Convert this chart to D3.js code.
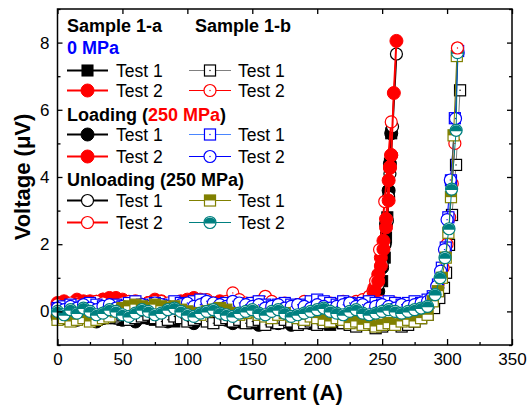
<!DOCTYPE html>
<html><head><meta charset="utf-8">
<script src="https://cdn.jsdelivr.net/npm/d3@7"></script>
<style>
html,body{margin:0;padding:0;background:#fff;}
svg{display:block;font-family:"Liberation Sans",Arial,sans-serif;}
</style></head>
<body>
<svg id="chart" width="530" height="410"></svg>
<script>
// ---------- DATA ----------
const xTicks = [0,50,100,150,200,250,300,350];
const yTicks = [0,2,4,6,8];
const xLabel = "Current (A)";
const yLabel = "Voltage (\u03bcV)";

// baseline current grids (A)
const gridA = [0,5,10,15,20,25,30,35,40,45,50,55,60,65,70,75,80,85,90,95,100,105,110,115,120,125,130,135,140,145,150,155,160,165,170,175,180,185,190,195,200,205,210,215,220,225,230,235,240];
const gridB = [0,5,10,15,20,25,30,35,40,45,50,55,60,65,70,75,80,85,90,95,100,105,110,115,120,125,130,135,140,145,150,155,160,165,170,175,180,185,190,195,200,205,210,215,220,225,230,235,240,245,250,255,260,265,270,275,280,285];

// Sample 1-a, 0 MPa Test 1
const a0t1Base = [-0.05,-0.1,0.0,-0.15,-0.1,-0.2,-0.05,-0.15,-0.1,-0.2,-0.25,-0.1,-0.15,-0.2,-0.1,-0.25,-0.2,-0.15,-0.3,-0.2,-0.15,-0.25,-0.2,-0.1,-0.2,-0.25,-0.15,-0.3,-0.25,-0.2,-0.35,-0.3,-0.25,-0.35,-0.2,-0.3,-0.25,-0.35,-0.3,-0.2,-0.35,-0.3,-0.4,-0.3,-0.35,-0.25,-0.3,-0.2,-0.1];
const a0t1RiseI = [244,247,250,252,253,254,255,256,257];
const a0t1RiseV = [0.1,0.4,0.9,1.6,2.2,2.8,3.5,4.4,5.3];
// Sample 1-a, 0 MPa Test 2
const a0t2Base = [0.2,0.25,0.15,0.2,0.3,0.2,0.25,0.35,0.3,0.4,0.3,0.25,0.2,0.15,0.25,0.2,0.1,0.2,0.15,0.25,0.2,0.3,0.35,0.25,0.2,0.1,0.15,0.2,0.1,0.15,0.05,0.1,0.0,0.05,-0.05,0.0,0.1,0.05,-0.05,0.0,0.05,-0.1,0.0,0.05,-0.05,0.1,0.15,0.2,0.3];
const a0t2RiseI = [244,247,249,251,253,255,256,257,259,261];
const a0t2RiseV = [0.6,0.9,1.35,1.85,2.5,3.3,4.3,4.65,6.5,8.05];
// Sample 1-a, Loading Test 1
const aLt1Base = [-0.15,-0.2,-0.1,-0.25,-0.15,-0.2,-0.3,-0.2,-0.1,-0.15,-0.25,-0.2,-0.3,-0.15,-0.2,-0.1,-0.25,-0.3,-0.2,-0.15,-0.25,-0.35,-0.2,-0.15,-0.3,-0.2,-0.25,-0.35,-0.3,-0.2,-0.25,-0.4,-0.3,-0.25,-0.35,-0.3,-0.4,-0.3,-0.25,-0.35,-0.3,-0.2,-0.35,-0.3,-0.25,-0.3,-0.2,-0.1,0.0];
const aLt1RiseI = [244,247,250,252,253,255,256,257];
const aLt1RiseV = [0.2,0.6,1.3,2.0,2.6,3.6,4.4,5.3];
// Sample 1-a, Loading Test 2
const aLt2Base = [0.25,0.3,0.2,0.35,0.25,0.3,0.2,0.35,0.4,0.3,0.35,0.25,0.3,0.2,0.25,0.35,0.3,0.2,0.25,0.3,0.35,0.4,0.3,0.25,0.2,0.3,0.2,0.15,0.25,0.2,0.1,0.15,0.2,0.1,0.05,0.15,0.1,0.0,0.1,0.05,0.15,0.1,0.0,0.05,0.15,0.2,0.25,0.3,0.4];
const aLt2RiseI = [244,247,249,251,253,254,255,256,257];
const aLt2RiseV = [0.7,1.1,1.6,2.1,2.75,3.3,3.9,4.27,4.65];
// Sample 1-a, Unloading Test 1
const aUt1Base = [-0.05,0.0,-0.1,-0.05,-0.15,-0.1,0.0,-0.05,-0.1,-0.2,-0.1,-0.05,-0.15,-0.1,0.0,-0.1,-0.15,-0.05,-0.2,-0.1,-0.15,-0.05,-0.1,-0.2,-0.15,-0.1,-0.2,-0.15,-0.25,-0.2,-0.1,-0.2,-0.15,-0.25,-0.2,-0.3,-0.2,-0.15,-0.25,-0.2,-0.3,-0.25,-0.2,-0.15,-0.25,-0.1,-0.05,0.05,0.15];
const aUt1RiseI = [244,247,250,252,254,255,256,258,261];
const aUt1RiseV = [0.4,0.8,1.4,2.0,2.7,3.4,4.1,5.5,7.66];
// Sample 1-a, Unloading Test 2
const aUt2Base = [0.15,0.2,0.1,0.25,0.15,0.2,0.3,0.2,0.15,0.25,0.2,0.1,0.2,0.15,0.25,0.3,0.2,0.15,0.1,0.2,0.15,0.25,0.2,0.3,0.25,0.15,0.2,0.1,0.15,0.2,0.25,0.15,0.1,0.2,0.15,0.05,0.1,0.2,0.1,0.15,0.05,0.1,0.15,0.1,0.2,0.25,0.3,0.35,0.45];
const aUt2RiseI = [243,245,248,252,257];
const aUt2RiseV = [0.6,0.9,1.84,3.27,5.64];

// Sample 1-b, 0 MPa Test 1
const b0t1Base = [-0.1,-0.15,-0.05,-0.2,-0.1,-0.15,-0.25,-0.1,-0.2,-0.15,-0.1,-0.25,-0.2,-0.15,-0.1,-0.2,-0.3,-0.25,-0.15,-0.2,-0.3,-0.25,-0.2,-0.3,-0.35,-0.25,-0.2,-0.3,-0.25,-0.35,-0.3,-0.25,-0.4,-0.3,-0.35,-0.25,-0.3,-0.4,-0.35,-0.3,-0.4,-0.35,-0.3,-0.25,-0.35,-0.4,-0.45,-0.35,-0.4,-0.5,-0.45,-0.4,-0.35,-0.45,-0.4,-0.3,-0.2,-0.1];
const b0t1RiseI = [290,294,297.6,299.2,301.5,303.8,306.9,310];
const b0t1RiseV = [0.1,0.4,0.7,1.15,1.98,2.87,4.36,6.58];
// Sample 1-b, 0 MPa Test 2
const b0t2Base = [0.2,0.15,0.25,0.2,0.1,0.2,0.3,0.25,0.15,0.2,0.25,0.3,0.2,0.15,0.25,0.2,0.3,0.25,0.2,0.15,0.25,0.2,0.3,0.35,0.25,0.2,0.3,0.55,0.35,0.25,0.2,0.3,0.45,0.3,0.2,0.25,0.15,0.2,0.3,0.25,0.2,0.15,0.25,0.2,0.3,0.25,0.2,0.15,0.2,0.25,0.3,0.2,0.25,0.2,0.15,0.2,0.25,0.3];
const b0t2RiseI = [289,293,297,300,302,304,306,308];
const b0t2RiseV = [0.4,0.8,1.3,2.0,2.8,3.8,5.0,7.84];
// Sample 1-b, Loading Test 1
const bLt1Base = [0.1,0.15,0.2,0.1,0.15,0.25,0.2,0.15,0.1,0.2,0.15,0.25,0.3,0.2,0.15,0.25,0.2,0.15,0.3,0.25,0.2,0.3,0.35,0.25,0.2,0.15,0.25,0.2,0.15,0.2,0.25,0.3,0.2,0.15,0.2,0.25,0.2,0.15,0.2,0.3,0.35,0.3,0.25,0.2,0.3,0.25,0.2,0.25,0.3,0.25,0.2,0.3,0.25,0.2,0.25,0.3,0.25,0.35];
const bLt1RiseI = [289,293,296,299,301,303,306,308.5];
const bLt1RiseV = [0.45,0.8,1.3,1.9,2.8,3.9,5.75,7.75];
// Sample 1-b, Loading Test 2
const bLt2Base = [0.1,0.05,0.15,0.1,0.2,0.1,0.05,0.15,0.2,0.1,0.15,0.05,0.1,0.2,0.15,0.25,0.2,0.15,0.1,0.2,0.25,0.15,0.2,0.3,0.25,0.2,0.15,0.3,0.25,0.2,0.15,0.2,0.1,0.15,0.2,0.1,0.15,0.2,0.15,0.1,0.2,0.15,0.1,0.15,0.2,0.25,0.15,0.2,0.1,0.15,0.2,0.15,0.1,0.2,0.15,0.2,0.25,0.3];
const bLt2RiseI = [288,292,295,298,300,302.5,306.5,308.5];
const bLt2RiseV = [0.4,0.75,1.2,1.84,2.73,3.91,5.74,7.7];
// Sample 1-b, Unloading Test 1
const bUt1Base = [-0.25,-0.2,-0.3,-0.25,-0.2,-0.3,-0.25,-0.2,-0.15,0.0,0.1,0.15,0.2,0.15,0.1,0.2,0.15,0.1,0.15,0.05,0.0,-0.05,-0.1,0.0,0.05,0.1,0.05,-0.05,-0.1,-0.05,0.0,-0.1,-0.15,-0.2,-0.1,-0.05,-0.15,-0.2,-0.25,-0.15,-0.2,-0.25,-0.3,-0.2,-0.25,-0.35,-0.3,-0.4,-0.35,-0.45,-0.4,-0.35,-0.4,-0.3,-0.25,-0.3,-0.2,-0.1];
const bUt1RiseI = [289,293,296,299,301,303,305,307.5];
const bUt1RiseV = [0.3,0.6,1.0,1.6,2.34,3.4,5.24,7.6];
// Sample 1-b, Unloading Test 2
const bUt2Base = [0.0,-0.1,0.05,-0.05,0.1,0.0,-0.1,-0.05,0.05,0.0,-0.1,-0.15,-0.05,0.05,0.0,-0.1,-0.05,0.05,0.1,0.0,-0.1,-0.15,-0.05,0.0,0.05,-0.05,-0.1,-0.15,-0.05,0.0,0.05,-0.05,-0.1,0.0,0.05,-0.05,-0.15,-0.1,-0.05,0.0,0.05,0.1,0.0,-0.05,-0.1,0.0,0.05,-0.05,-0.1,-0.05,0.0,0.05,0.0,-0.05,0.0,0.05,0.1,0.15];
const bUt2RiseI = [290.8,294.6,298.4,301.5,303.5,307,308];
const bUt2RiseV = [0.5,1.0,1.6,2.46,3.64,5.39,7.7];

// ---------- BUILD ----------
function build(grid, base, riseI, riseV){
  const pts = [];
  const n = Math.min(grid.length, base.length);
  for (let i=0;i<n;i++) pts.push([grid[i], base[i]]);
  for (let i=0;i<riseI.length;i++) pts.push([riseI[i], riseV[i]]);
  return pts;
}
const series = [
  {pts: build(gridA,a0t1Base,a0t1RiseI,a0t1RiseV), line:"#000", lw:2, mk:"sqFill", mc:"#000"},
  {pts: build(gridA,aLt1Base,aLt1RiseI,aLt1RiseV), line:"#000", lw:2, mk:"circFill", mc:"#000"},
  {pts: build(gridA,aUt1Base,aUt1RiseI,aUt1RiseV), line:"#000", lw:2, mk:"circOpen", mc:"#000"},
  {pts: build(gridA,aLt2Base,aLt2RiseI,aLt2RiseV), line:"#f00", lw:2, mk:"circFill", mc:"#f00"},
  {pts: build(gridA,aUt2Base,aUt2RiseI,aUt2RiseV), line:"#f00", lw:2, mk:"circOpen", mc:"#f00"},
  {pts: build(gridA,a0t2Base,a0t2RiseI,a0t2RiseV), line:"#f00", lw:2, mk:"circFill", mc:"#f00"},
  {pts: build(gridB,b0t1Base,b0t1RiseI,b0t1RiseV), line:"#808080", lw:1, mk:"sqOpenDot", mc:"#000"},
  {pts: build(gridB,b0t2Base,b0t2RiseI,b0t2RiseV), line:"#f00", lw:1, mk:"circOpenDot", mc:"#f00"},
  {pts: build(gridB,bLt1Base,bLt1RiseI,bLt1RiseV), line:"#4a86ff", lw:1, mk:"sqOpenDot", mc:"#0000ff"},
  {pts: build(gridB,bLt2Base,bLt2RiseI,bLt2RiseV), line:"#0000ff", lw:1, mk:"circOpenDot", mc:"#0000ff"},
  {pts: build(gridB,bUt1Base,bUt1RiseI,bUt1RiseV), line:"#808000", lw:1, mk:"sqHalf", mc:"#808000"},
  {pts: build(gridB,bUt2Base,bUt2RiseI,bUt2RiseV), line:"#008080", lw:1, mk:"circHalf", mc:"#008080"}
];

// ---------- DRAW ----------
const svg = d3.select("#chart");
const L=57.5, R=512, T=9, B=345;
const x = d3.scaleLinear().domain([0,350]).range([L,R]);
const y = d3.scaleLinear().domain([-1,9]).range([B,T]);

function marker(g, type, color, cx, cy, s){
  const r = s/2;
  if (type==="sqFill"){
    g.append("rect").attr("x",cx-r*0.85).attr("y",cy-r*0.85).attr("width",s*0.85).attr("height",s*0.85).attr("fill",color).attr("stroke",color).attr("stroke-width",1);
  } else if (type==="circFill"){
    g.append("circle").attr("cx",cx).attr("cy",cy).attr("r",r).attr("fill",color).attr("stroke",color).attr("stroke-width",1);
  } else if (type==="circOpen" || type==="circOpenDot"){
    g.append("circle").attr("cx",cx).attr("cy",cy).attr("r",r-0.5).attr("fill","#fff").attr("stroke",color).attr("stroke-width",1.2);
    if (type==="circOpenDot") g.append("circle").attr("cx",cx).attr("cy",cy).attr("r",0.7).attr("fill",color);
  } else if (type==="sqOpenDot"){
    const h=r*0.85;
    g.append("rect").attr("x",cx-h).attr("y",cy-h).attr("width",2*h).attr("height",2*h).attr("fill","#fff").attr("stroke",color).attr("stroke-width",1.2);
    g.append("circle").attr("cx",cx).attr("cy",cy).attr("r",0.7).attr("fill",color);
  } else if (type==="sqHalf"){
    const h=r*0.85;
    g.append("rect").attr("x",cx-h).attr("y",cy-h).attr("width",2*h).attr("height",2*h).attr("fill","#fff").attr("stroke","none");
    g.append("rect").attr("x",cx-h).attr("y",cy-h).attr("width",2*h).attr("height",h).attr("fill",color);
    g.append("rect").attr("x",cx-h).attr("y",cy-h).attr("width",2*h).attr("height",2*h).attr("fill","none").attr("stroke",color).attr("stroke-width",1.2);
  } else if (type==="circHalf"){
    const rr=r-0.5;
    g.append("circle").attr("cx",cx).attr("cy",cy).attr("r",rr).attr("fill","#fff");
    g.append("path").attr("d",`M${cx-rr},${cy+1}A${rr},${rr} 0 0 1 ${cx+rr},${cy+1}Z`).attr("fill",color);
    g.append("circle").attr("cx",cx).attr("cy",cy).attr("r",rr).attr("fill","none").attr("stroke",color).attr("stroke-width",1.2);
  }
}

const line = d3.line().x(d=>x(d[0])).y(d=>y(d[1]));
const plot = svg.append("g");
const MS = 13;
series.forEach(s=>{
  const g = plot.append("g");
  g.append("path").attr("d",line(s.pts)).attr("fill","none").attr("stroke",s.line).attr("stroke-width",s.lw);
  s.pts.forEach(p=>marker(g, s.mk, s.mc, x(p[0]), y(p[1]), MS));
});
// top-most red open circle of sample 1-b sits above the others
{
  const s = series[7];
  const g = plot.append("g");
  s.pts.filter(p=>p[1]>7).forEach(p=>marker(g, s.mk, s.mc, x(p[0]), y(p[1]), MS));
}

// axes
const axG = svg.append("g").attr("font-family","'Liberation Sans',Arial,sans-serif");
const xMinor = [25,75,125,175,225,275,325];
const yMinor = [-1,1,3,5,7,9];
function styleAxis(g, fs){
  g.select(".domain").remove();
  g.selectAll("line").attr("stroke","#000").attr("stroke-width",1.3);
  g.selectAll("text").attr("font-size",fs).attr("fill","#000").attr("font-family","'Liberation Sans',Arial,sans-serif");
}
axG.append("g").attr("transform",`translate(0,${B})`)
  .call(d3.axisBottom(x).tickValues(xTicks).tickSize(-6).tickPadding(8).tickFormat(d3.format("d")))
  .call(g=>styleAxis(g,17));
axG.append("g").attr("transform",`translate(0,${B})`)
  .call(d3.axisBottom(x).tickValues(xMinor).tickSize(-3).tickFormat(""))
  .call(g=>styleAxis(g,17));
axG.append("g").attr("transform",`translate(0,${T})`)
  .call(d3.axisTop(x).tickValues(xTicks).tickSize(-5).tickFormat(""))
  .call(g=>styleAxis(g,17));
axG.append("g").attr("transform",`translate(${L},0)`)
  .call(d3.axisLeft(y).tickValues(yTicks).tickSize(-5).tickPadding(8).tickFormat(d3.format("d")))
  .call(g=>styleAxis(g,17));
axG.append("g").attr("transform",`translate(${L},0)`)
  .call(d3.axisLeft(y).tickValues(yMinor).tickSize(-3).tickFormat(""))
  .call(g=>styleAxis(g,17));
axG.append("g").attr("transform",`translate(${R},0)`)
  .call(d3.axisRight(y).tickValues(yTicks).tickSize(-5).tickFormat(""))
  .call(g=>styleAxis(g,17));
axG.append("g").attr("transform",`translate(${R},0)`)
  .call(d3.axisRight(y).tickValues(yMinor).tickSize(-3).tickFormat(""))
  .call(g=>styleAxis(g,17));
svg.append("rect").attr("x",L).attr("y",T).attr("width",R-L).attr("height",B-T)
  .attr("fill","none").attr("stroke","#000").attr("stroke-width",1.5);

// axis titles
svg.append("text").attr("x",(L+R)/2).attr("y",400).attr("text-anchor","middle")
  .attr("font-size",22).attr("font-weight","bold").text(xLabel);
svg.append("text").attr("transform",`translate(30,${(T+B)/2}) rotate(-90)`).attr("text-anchor","middle")
  .attr("font-size",22).attr("font-weight","bold").text(yLabel);

// legend
const lg = svg.append("g");
const hdrFS = 18, txtFS = 17.5;
lg.append("text").attr("x",67).attr("y",32).attr("font-size",hdrFS).attr("font-weight","bold").text("Sample 1-a");
lg.append("text").attr("x",195).attr("y",32).attr("font-size",hdrFS).attr("font-weight","bold").text("Sample 1-b");
lg.append("text").attr("x",67).attr("y",54).attr("font-size",hdrFS).attr("font-weight","bold").attr("fill","#0000ff").text("0 MPa");
{
  const t = lg.append("text").attr("x",67).attr("y",121).attr("font-size",hdrFS).attr("font-weight","bold");
  t.append("tspan").text("Loading (");
  t.append("tspan").attr("fill","#f00").text("250 MPa");
  t.append("tspan").text(")");
}
lg.append("text").attr("x",67).attr("y",186).attr("font-size",hdrFS).attr("font-weight","bold").text("Unloading (250 MPa)");

const legendRows = [
  {y:77, a:0, b:6, la:"Test 1", lb:"Test 1"},
  {y:97, a:5, b:7, la:"Test 2", lb:"Test 2"},
  {y:141, a:1, b:8, la:"Test 1", lb:"Test 1"},
  {y:163, a:3, b:9, la:"Test 2", lb:"Test 2"},
  {y:207, a:2, b:10, la:"Test 1", lb:"Test 1"},
  {y:229, a:4, b:11, la:"Test 2", lb:"Test 2"}
];
legendRows.forEach(r=>{
  const cy = r.y - 6.5;
  [[r.a,67,108,116,r.la],[r.b,189,231,238,r.lb]].forEach(([si,x0,x1,tx,lab])=>{
    const s = series[si];
    lg.append("line").attr("x1",x0).attr("x2",x1).attr("y1",cy).attr("y2",cy).attr("stroke",s.line).attr("stroke-width",s.lw);
    marker(lg, s.mk, s.mc, (x0+x1)/2, cy, 13);
    lg.append("text").attr("x",tx).attr("y",r.y).attr("font-size",txtFS).text(lab);
  });
});
</script>
</body></html>
